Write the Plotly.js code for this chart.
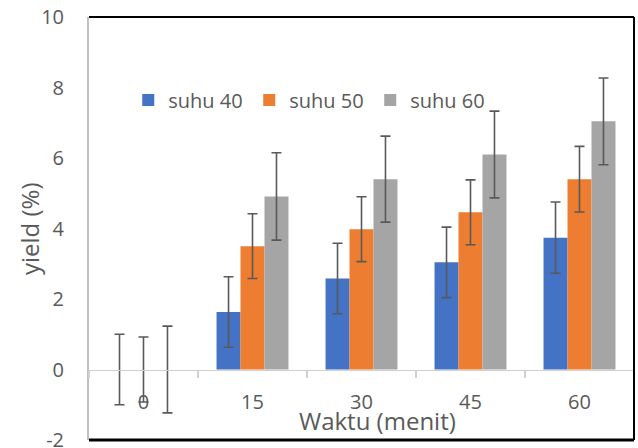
<!DOCTYPE html>
<html>
<head>
<meta charset="utf-8">
<script src="https://cdn.plot.ly/plotly-3.0.1.min.js"></script>
<style>html,body{margin:0;padding:0;background:#fff;}#chart{width:638px;height:448px;}</style>
</head>
<body>
<div id="chart"></div>
<script>
const categories = ["0", "15", "30", "45", "60"];
const seriesNames = ["suhu 40", "suhu 50", "suhu 60"];
const suhu40 = [0, 1.63, 2.58, 3.04, 3.74];
const suhu50 = [0, 3.50, 3.98, 4.46, 5.40];
const suhu60 = [0, 4.91, 5.40, 6.10, 7.04];
const err40 = [1.00, 1.00, 1.00, 1.00, 1.01];
const err50 = [0.92, 0.92, 0.92, 0.92, 0.93];
const err60 = [1.23, 1.24, 1.22, 1.23, 1.23];
const colors = ["#4472C4", "#ED7D31", "#A5A5A5"];
const yTicks = [-2, 0, 2, 4, 6, 8, 10];
const xTitle = "Waktu (menit)";
const yTitle = "yield (%)";

const values = [suhu40, suhu50, suhu60];
const errs = [err40, err50, err60];
const txt = "#595959";
const mkFont = (s) => ({family: "Open Sans, sans-serif", size: s, color: txt});

const traces = values.map((v, i) => ({
  type: "bar",
  name: seriesNames[i],
  x: categories,
  y: v,
  marker: {color: colors[i], line: {width: 0}},
  error_y: {type: "data", array: errs[i], visible: true, color: "#595959", thickness: 1.6, width: 5}
}));

const layout = {
  width: 638, height: 448,
  margin: {l: 89, r: 4, t: 17, b: 8},
  paper_bgcolor: "#fff", plot_bgcolor: "#fff",
  font: mkFont(20),
  barmode: "group", bargap: 0.34, bargroupgap: 0,
  showlegend: true,
  legend: {orientation: "h", x: 0.072, y: 0.804, xanchor: "left", yanchor: "middle",
           font: mkFont(20), bgcolor: "rgba(0,0,0,0)", entrywidth: 76, itemclick: false},
  xaxis: {
    type: "category", categoryorder: "array", categoryarray: categories,
    anchor: "free", position: 2 / 12,
    showline: true, linecolor: "#D0D0D0", linewidth: 1.5,
    ticks: "outside", tickson: "boundaries", ticklen: 7, tickcolor: "#D0D0D0", tickwidth: 1.5,
    showgrid: false, zeroline: false,
    tickfont: mkFont(20), ticklabelstandoff: 14
  },
  yaxis: {
    range: [-2, 10], tickvals: yTicks, ticktext: yTicks.map(String),
    showline: true, linecolor: "#BFBFBF", linewidth: 2,
    ticks: "", showgrid: false, zeroline: false,
    tickfont: mkFont(20), ticklabelstandoff: 19, ticklabeloverflow: "allow"
  },
  annotations: [
    {text: xTitle, xref: "paper", yref: "paper", x: 0.529, y: 0.045,
     xanchor: "center", yanchor: "middle", showarrow: false, font: mkFont(24)},
    {text: yTitle, xref: "paper", yref: "paper", x: -0.108, y: 0.499, textangle: -90,
     xanchor: "center", yanchor: "middle", showarrow: false, font: mkFont(24)}
  ],
  shapes: [
    {type: "line", xref: "paper", yref: "paper", x0: 0, x1: 1, y0: 1, y1: 1, line: {color: "#000", width: 2}},
    {type: "line", xref: "paper", yref: "paper", x0: 1, x1: 1, y0: 0, y1: 1, line: {color: "#000", width: 2}},
    {type: "line", xref: "paper", yref: "paper", x0: 0, x1: 1, y0: 0, y1: 0, line: {color: "#000", width: 3}}
  ]
};

Plotly.newPlot("chart", traces, layout, {displayModeBar: false, staticPlot: true});
</script>
</body>
</html>
